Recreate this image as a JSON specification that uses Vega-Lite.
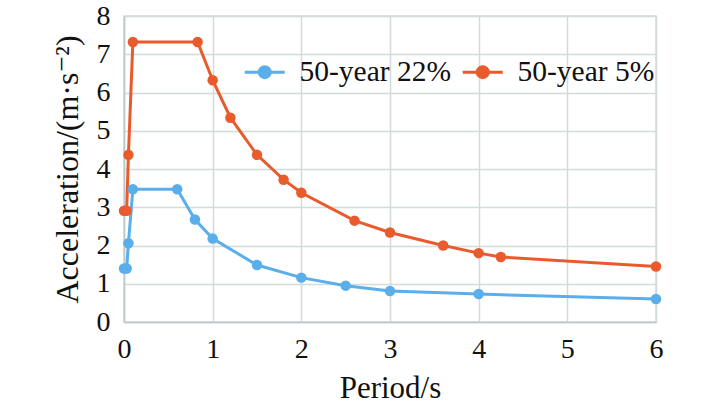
{
  "$schema": "https://vega.github.io/schema/vega-lite/v6.json",
  "width": 532,
  "height": 306,
  "autosize": "none",
  "padding": {"left": 124, "top": 16, "right": 53, "bottom": 87},
  "background": "white",
  "config": {
    "font": "Times New Roman, Liberation Serif, DejaVu Serif, serif",
    "view": {"stroke": "#d3dbdc", "strokeWidth": 1.5},
    "axis": {
      "labelFont": "Times New Roman, Liberation Serif, DejaVu Serif, serif",
      "titleFont": "Times New Roman, Liberation Serif, DejaVu Serif, serif",
      "labelFontSize": 28,
      "titleFontSize": 31,
      "labelColor": "#111",
      "titleColor": "#111",
      "titleFontWeight": "normal",
      "gridColor": "#d3dbdc",
      "gridWidth": 1.5,
      "domainColor": "#bcc8c9",
      "domainWidth": 1.5,
      "ticks": false
    }
  },
  "data": {
    "values": [
      {"T": 0, "A": 1.4, "s": "50-year 22%"},
      {"T": 0.03, "A": 1.4, "s": "50-year 22%"},
      {"T": 0.05, "A": 2.06, "s": "50-year 22%"},
      {"T": 0.1, "A": 3.47, "s": "50-year 22%"},
      {"T": 0.6, "A": 3.47, "s": "50-year 22%"},
      {"T": 0.8, "A": 2.68, "s": "50-year 22%"},
      {"T": 1.0, "A": 2.18, "s": "50-year 22%"},
      {"T": 1.5, "A": 1.49, "s": "50-year 22%"},
      {"T": 2.0, "A": 1.16, "s": "50-year 22%"},
      {"T": 2.5, "A": 0.95, "s": "50-year 22%"},
      {"T": 3.0, "A": 0.81, "s": "50-year 22%"},
      {"T": 4.0, "A": 0.73, "s": "50-year 22%"},
      {"T": 6.0, "A": 0.6, "s": "50-year 22%"},
      {"T": 0, "A": 2.91, "s": "50-year 5%"},
      {"T": 0.03, "A": 2.91, "s": "50-year 5%"},
      {"T": 0.05, "A": 4.37, "s": "50-year 5%"},
      {"T": 0.1, "A": 7.32, "s": "50-year 5%"},
      {"T": 0.83, "A": 7.32, "s": "50-year 5%"},
      {"T": 1.0, "A": 6.32, "s": "50-year 5%"},
      {"T": 1.2, "A": 5.34, "s": "50-year 5%"},
      {"T": 1.5, "A": 4.37, "s": "50-year 5%"},
      {"T": 1.8, "A": 3.72, "s": "50-year 5%"},
      {"T": 2.0, "A": 3.38, "s": "50-year 5%"},
      {"T": 2.6, "A": 2.65, "s": "50-year 5%"},
      {"T": 3.0, "A": 2.34, "s": "50-year 5%"},
      {"T": 3.6, "A": 2.0, "s": "50-year 5%"},
      {"T": 4.0, "A": 1.8, "s": "50-year 5%"},
      {"T": 4.25, "A": 1.7, "s": "50-year 5%"},
      {"T": 6.0, "A": 1.45, "s": "50-year 5%"}
    ]
  },
  "mark": {"type": "line", "strokeWidth": 3, "point": {"filled": true, "size": 110}},
  "encoding": {
    "x": {
      "field": "T", "type": "quantitative",
      "scale": {"domain": [0, 6], "nice": false},
      "axis": {"values": [0, 1, 2, 3, 4, 5, 6], "title": "Period/s", "labelPadding": 13, "titlePadding": 10, "labelFlush": false}
    },
    "y": {
      "field": "A", "type": "quantitative",
      "scale": {"domain": [0, 8], "nice": false},
      "axis": {"values": [0, 1, 2, 3, 4, 5, 6, 7, 8], "title": "Acceleration/(m·s⁻²)", "titleFontSize": 32, "labelPadding": 14, "titlePadding": 12}
    },
    "color": {
      "field": "s", "type": "nominal",
      "scale": {"domain": ["50-year 22%", "50-year 5%"], "range": ["#5AAEEA", "#E95B2C"]},
      "legend": {
        "title": null,
        "orient": "none",
        "legendX": 126,
        "legendY": 41,
        "direction": "horizontal",
        "columns": 2,
        "padding": 0,
        "labelFont": "Times New Roman, Liberation Serif, DejaVu Serif, serif",
        "labelFontSize": 29.5,
        "labelColor": "#111",
        "labelOffset": 20,
        "columnPadding": 4,
        "symbolSize": 400,
        "symbolStrokeWidth": 3,
        "symbolType": "M-2,0L2,0M-0.55,0A0.55,0.55 0 1,0 0.55,0A0.55,0.55 0 1,0 -0.55,0Z",
        "encode": {
          "symbols": {
            "update": {
              "fill": {"scale": "color", "field": "value"},
              "stroke": {"scale": "color", "field": "value"},
              "fillOpacity": {"value": 1},
              "strokeOpacity": {"value": 1}
            }
          }
        }
      }
    }
  }
}
